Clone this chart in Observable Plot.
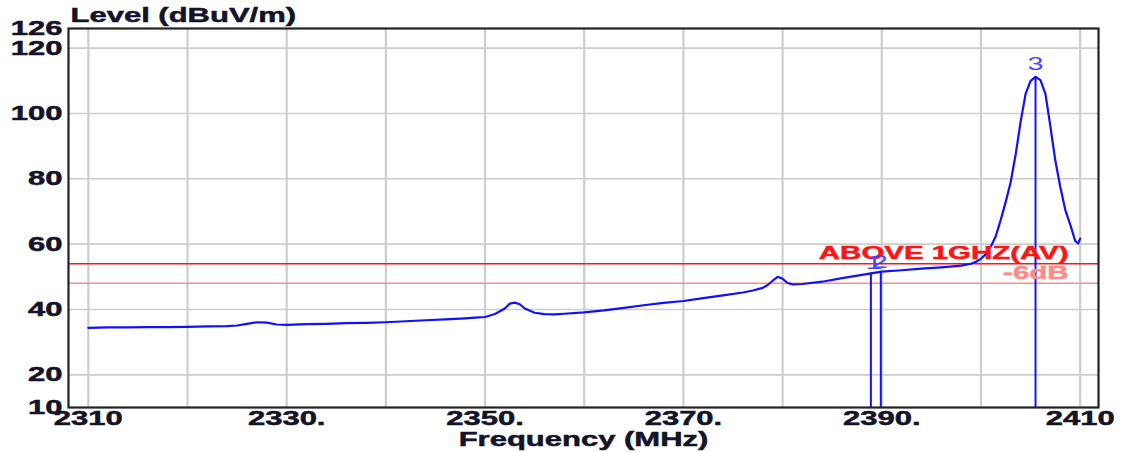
<!DOCTYPE html>
<html>
<head>
<meta charset="utf-8">
<script src="https://cdn.jsdelivr.net/npm/d3@7"></script>
<script src="https://cdn.jsdelivr.net/npm/@observablehq/plot@0.6"></script>
<style>
  html, body { margin: 0; padding: 0; background: #fff; }
  #chart svg { display: block; }
</style>
</head>
<body>
<div id="chart"></div>
<script>
// ---- data ----
const freq = [2310, 2312, 2314, 2316, 2318, 2320, 2322, 2324, 2325, 2326, 2327, 2328, 2329, 2330,
  2332, 2334, 2336, 2338, 2340, 2342, 2344, 2346, 2348, 2349, 2350, 2351, 2352, 2352.5, 2353,
  2353.5, 2354, 2355, 2356, 2357, 2358, 2360, 2362, 2364, 2366, 2368, 2370, 2372, 2374, 2376,
  2377, 2378, 2378.5, 2379, 2379.5, 2380, 2380.5, 2381, 2382, 2384, 2386, 2388, 2390, 2392,
  2394, 2396, 2398, 2399, 2399.5, 2400, 2400.5, 2401, 2401.5, 2402, 2402.5, 2403, 2403.5, 2404,
  2404.5, 2405, 2405.5, 2406, 2406.5, 2407, 2407.5, 2408, 2408.5, 2409, 2409.5, 2409.8, 2410];
const level = [34.4, 34.5, 34.5, 34.6, 34.6, 34.7, 34.8, 34.9, 35.1, 35.6, 36.1, 36.0, 35.4, 35.3,
  35.5, 35.6, 35.8, 35.9, 36.1, 36.4, 36.7, 37.0, 37.3, 37.5, 37.7, 38.6, 40.3, 41.8, 42.1,
  41.6, 40.3, 39.0, 38.6, 38.5, 38.7, 39.1, 39.7, 40.5, 41.3, 42.0, 42.6, 43.5, 44.3, 45.2,
  45.8, 46.6, 47.5, 48.8, 50.0, 49.4, 48.1, 47.7, 47.8, 48.5, 49.6, 50.6, 51.6, 52.0,
  52.5, 52.9, 53.4, 54.0, 54.6, 55.5, 57.0, 59.3, 62.5, 67.5, 73.0, 79.0, 87.5, 97.5,
  106.0, 110.0, 111.2, 110.2, 106.0, 96.0, 85.5, 77.5, 70.5, 66.0, 61.0, 60.2, 61.7];

const markerFreq = [2388.9, 2389.9, 2405.5];
const markerLevel = [51.2, 51.5, 111.2];
const markerLabel = ["1", "2", "3"];

const limitValues = [54, 48];
const limitLabels = ["ABOVE 1GHZ(AV)", "-6dB"];
const limitColors = ["#ff1414", "#ff8a8a"];

const yTicks = [10, 20, 40, 60, 80, 100, 120, 126];
const yGrid = [20, 40, 60, 80, 100, 120];
const xTicks = [2310, 2330, 2350, 2370, 2390, 2410];
const xTickLabels = ["2310", "2330.", "2350.", "2370.", "2390.", "2410"];
const xGrid = [2310, 2320, 2330, 2340, 2350, 2360, 2370, 2380, 2390, 2400, 2410];

const title = "Level (dBuV/m)";
const xTitle = "Frequency (MHz)";

// ---- build tables ----
const trace = freq.map((f, i) => ({f, v: level[i]}));
const markers = markerFreq.map((f, i) => ({f, v: markerLevel[i], label: markerLabel[i]}));
const limits = limitValues.map((v, i) => ({v, label: limitLabels[i], color: limitColors[i]}));
const xLabelMap = new Map(xTicks.map((t, i) => [t, xTickLabels[i]]));

const ink = "#141428";
const font = "'Liberation Sans', Arial, sans-serif";
const fs = 20;

const plot = Plot.plot({
  width: 1121,
  height: 452,
  marginLeft: 68,
  marginRight: 23,
  marginTop: 28,
  marginBottom: 45,
  style: {background: "#fff", fontFamily: font, overflow: "visible"},
  x: {domain: [2308, 2411.85], label: null},
  y: {domain: [10, 126], label: null},
  marks: [
    Plot.gridX(xGrid, {stroke: "#cdcdcd", strokeOpacity: 1, strokeWidth: 2.2}),
    Plot.gridY(yGrid, {stroke: "#cdcdcd", strokeOpacity: 1, strokeWidth: 1.6}),
    Plot.ruleY(limits, {y: "v", stroke: "color", strokeWidth: 1.5}),
    Plot.ruleX(markers, {x: "f", y1: 10, y2: "v", stroke: "#1414ff", strokeWidth: 2}),
    Plot.line(trace, {x: "f", y: "v", stroke: "#1010ff", strokeWidth: 2.2}),
    Plot.frame({stroke: "#222", strokeWidth: 2.2}),
    Plot.axisY({ticks: yTicks, tickSize: 0, tickPadding: 6, fontSize: fs, fontWeight: "bold", fill: ink, label: null}),
    Plot.axisX({ticks: xTicks, tickFormat: d => xLabelMap.get(d), tickSize: 0, tickPadding: 3, fontSize: fs, fontWeight: "bold", fill: ink, label: null}),
    Plot.text(limits, {y: "v", text: "label", frameAnchor: "right", textAnchor: "end", dx: -30, dy: -10.5, fill: "color", fontSize: 19, fontWeight: "bold"}),
    Plot.text(markers.slice(0, 1), {x: "f", y: "v", text: "label", dx: 3, dy: -10, fill: "#4646ff", fontSize: 18.5}),
    Plot.text(markers.slice(1, 2), {x: "f", y: "v", text: "label", dx: -1, dy: -10, fill: "#4646ff", fontSize: 18.5}),
    Plot.text(markers.slice(2), {x: "f", y: "v", text: "label", dy: -13, fill: "#4646ff", fontSize: 18.5}),
    Plot.text([title], {frameAnchor: "top-left", textAnchor: "start", lineAnchor: "middle", dx: 2, dy: -13, fill: ink, fontSize: fs, fontWeight: "bold"}),
    Plot.text([xTitle], {frameAnchor: "bottom", lineAnchor: "middle", dy: 32, fill: ink, fontSize: fs, fontWeight: "bold"})
  ]
});

document.getElementById("chart").appendChild(plot);

// horizontal stretch of all texts (the reference is rendered horizontally stretched)
const SX = 1.55;
plot.querySelectorAll("text").forEach(t => {
  const xa = t.getAttribute("x");
  const x = xa !== null && !isNaN(+xa) ? +xa : 0;
  if (xa !== null && !isNaN(+xa)) t.removeAttribute("x");
  const tr = t.getAttribute("transform") || "";
  t.setAttribute("transform", `${tr} translate(${x},0) scale(${SX},1)`);
  const cs = getComputedStyle(t);
  if (+cs.fontWeight >= 700) {
    t.style.stroke = cs.fill;
    t.style.strokeWidth = "0.5px";
  }
});
</script>
</body>
</html>
